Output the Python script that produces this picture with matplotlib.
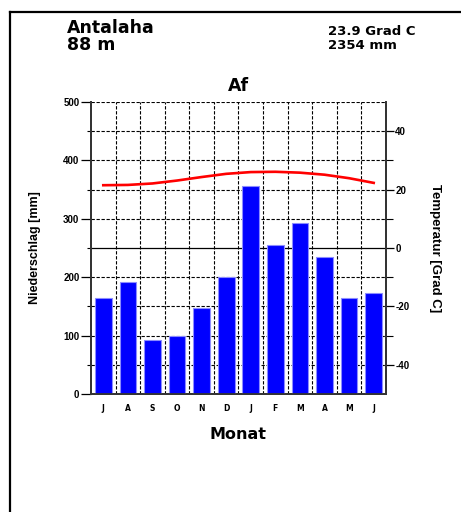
import matplotlib
matplotlib.use("Agg")
import matplotlib.pyplot as plt
from matplotlib.lines import Line2D
import numpy as np

plt.rcParams['font.family'] = ['Liberation Sans', 'DejaVu Sans']
WIDE = ['DejaVu Sans']

months = ["J", "A", "S", "O", "N", "D", "J", "F", "M", "A", "M", "J"]
precip = [164, 192, 92, 100, 147, 200, 357, 255, 293, 234, 164, 173]
temp = [21.5, 21.6, 22.1, 23.1, 24.3, 25.4, 26.0, 26.1, 25.8, 25.1, 23.9, 22.3]
station = "Antalaha"
elevation = "88 m"
mean_temp = "23.9 Grad C"
total_precip = "2354 mm"
climate = "Af"

fig = plt.figure(figsize=(4.61, 5.12), dpi=100)
L, R, T, B = 90.5, 385.5, 102, 394
W, H = 461, 512
ax = fig.add_axes([L / W, 1 - B / H, (R - L) / W, (B - T) / H])
ax2 = ax.twinx()

x = np.arange(len(months))
ax.bar(x, precip, width=0.68, color='#0000ff', edgecolor='#8c8cff', linewidth=0.8, zorder=3)
ax.set_xlim(-0.52, 11.48)
ax.set_ylim(0, 500)
ax2.set_ylim(-50, 50)

grid_kw = dict(color='black', linewidth=0.8, dashes=(3, 1.5), zorder=1)
for xi in np.arange(0.5, 11, 1.0):
    ax.axvline(xi, **grid_kw)
for yi in range(50, 501, 50):
    if yi == 250:
        ax.axhline(yi, color='black', linewidth=0.9, zorder=1)
    else:
        ax.axhline(yi, **grid_kw)

ax2.plot(x, temp, color='#ff0000', linewidth=1.9, zorder=4)

for a in (ax, ax2):
    a.spines['top'].set_visible(False)
    for s in ('left', 'right', 'bottom'):
        a.spines[s].set_color('#333333')
        a.spines[s].set_linewidth(1.3)

ax.set_xticks(x)
ax.set_xticklabels(months, fontsize=5.5, fontweight='bold', family=WIDE)
ax.tick_params(axis='x', length=0, pad=7)
ax.set_yticks(range(0, 501, 100))
ax.set_yticklabels([str(v) for v in range(0, 501, 100)], fontsize=7, fontweight='bold')
ax.set_yticks(range(50, 501, 100), minor=True)
ax.tick_params(axis='y', which='major', length=7, width=0.9, pad=1)
ax.tick_params(axis='y', which='minor', length=3, width=0.8)

ax2.set_yticks(range(-40, 41, 20))
ax2.set_yticklabels([str(v) for v in range(-40, 41, 20)], fontsize=7, fontweight='bold')
ax2.set_yticks(range(-30, 41, 20), minor=True)
ax2.tick_params(axis='y', which='major', length=6, width=0.9, pad=1)
ax2.tick_params(axis='y', which='minor', length=5, width=0.8)

ax.set_xlabel("Monat", fontsize=11.5, fontweight='bold', labelpad=10, family=WIDE)
ax.set_ylabel("Niederschlag [mm]", fontsize=9, fontweight='bold', labelpad=16)
ax2.set_ylabel("Temperatur [Grad C]", fontsize=9.5, fontweight='bold', rotation=-90, labelpad=23)

ax.set_title(climate, fontsize=12.5, fontweight='bold', pad=8, family=WIDE)

fig.text(67 / W, 1 - 19 / H, station, fontsize=12.5, fontweight='bold', va='top', ha='left', family=WIDE)
fig.text(67 / W, 1 - 36 / H, elevation, fontsize=12.5, fontweight='bold', va='top', ha='left', family=WIDE)
fig.text(328 / W, 1 - 25 / H, mean_temp, fontsize=9.5, fontweight='bold', va='top', ha='left', family=WIDE)
fig.text(328 / W, 1 - 39 / H, total_precip, fontsize=9.5, fontweight='bold', va='top', ha='left', family=WIDE)

fig.add_artist(Line2D([9.5 / W, 9.5 / W], [0, 1 - 12 / H], color='black', linewidth=1.6))
fig.add_artist(Line2D([9.5 / W, 1], [1 - 12 / H, 1 - 12 / H], color='black', linewidth=1.6))

fig.savefig("out.png", dpi=100)
